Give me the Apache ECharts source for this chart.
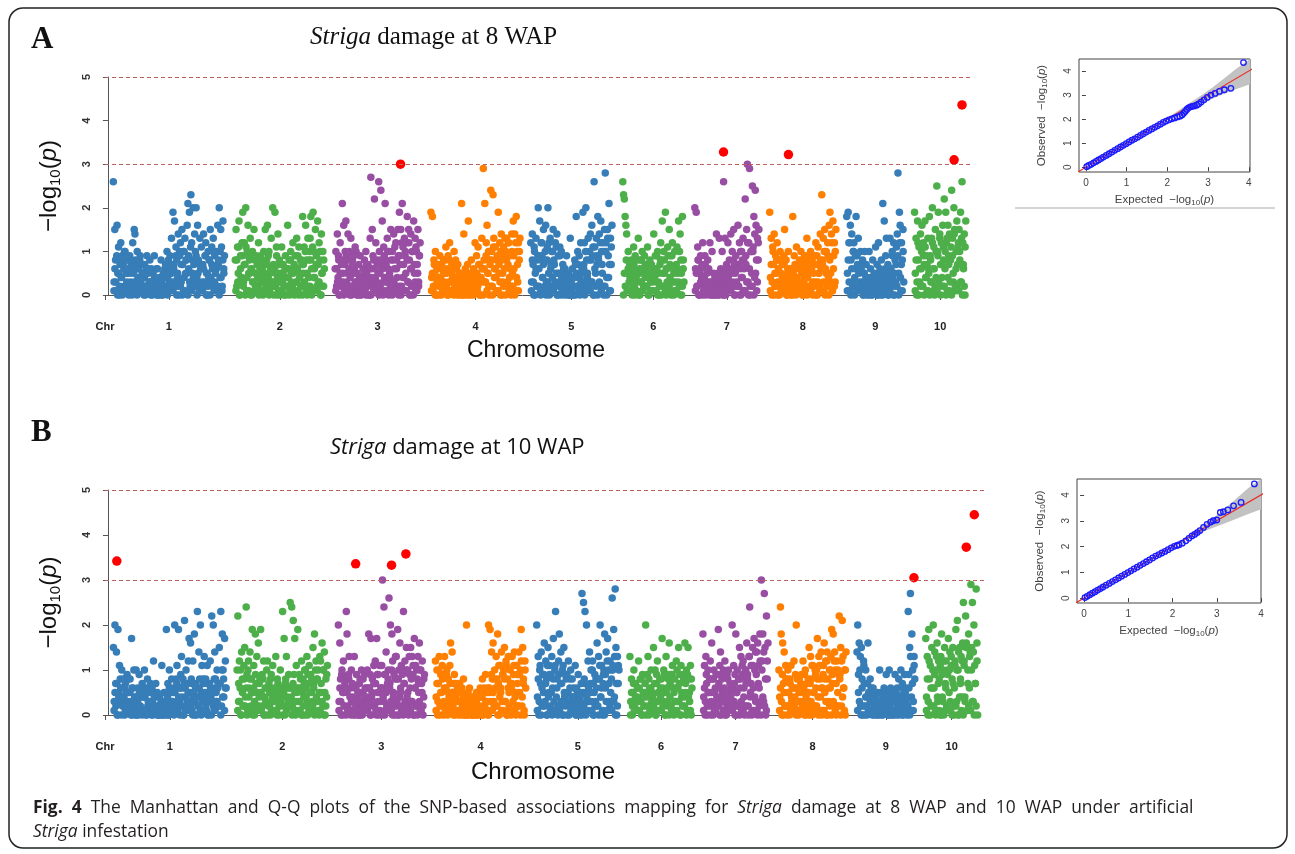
<!DOCTYPE html>
<html><head><meta charset="utf-8">
<script src="https://cdn.jsdelivr.net/npm/echarts@6/dist/echarts.min.js"></script>
<style>html,body{margin:0;padding:0;background:#fff;}#c{width:1295px;height:854px;}</style>
</head><body><div id="c"></div>
<script>
// ---------------- DATA ----------------
const chrLabels = ['1','2','3','4','5','6','7','8','9','10'];
const chrLengthMb = [293,240,230,240,221,173,180,185,163,149];
const yTicks = [0,1,2,3,4,5];
const thresholdLines = [3,5];

// Striga damage at 8 WAP : -log10(p) of SNPs in chromosome order (upper / scattered SNPs)
const wap8Chr1 = [2.6,0.3,1.5,0.8,0.1,1.6,0.5,1.1,0.0,0.7, 1.2,0.4,0.9,0.1,0.6,1.0,0.2,0.8,0.3,0.5, 0.6,0.1,0.9,0.3,0.7,0.0,1.2,0.5,1.5,1.4, 0.8,0.2,1.0,0.4,0.6,0.1,0.9,0.3,0.7,0.5, 0.4,0.0,0.7,0.2,0.5,0.9,0.1,0.6,0.3,0.8, 0.3,0.6,0.0,0.5,0.2,0.9,0.4,0.1,0.6,0.3, 0.2,0.0,0.4,0.1,0.8,0.3,0.0,0.5,0.2,0.6, 0.7,0.1,1.0,0.4,0.6,0.2,0.9,0.5,1.3,0.3, 1.9,0.6,1.7,0.2,1.1,0.8,0.4,1.4,0.0,0.9, 1.2,0.3,1.5,0.7,0.1,1.0,1.3,0.5,0.8,1.6, 2.1,0.9,1.9,0.2,2.3,1.2,0.5,2.0,0.7,1.4, 1.0,2.0,0.4,1.6,0.8,0.1,1.3,0.6,1.1,0.3, 0.7,1.4,0.2,0.9,1.2,0.5,0.0,1.0,0.4,0.8, 1.5,0.3,1.1,0.6,1.3,0.1,0.9,0.5,1.0,0.2, 1.6,0.8,2.0,0.4,1.5,1.1,0.2,1.7,0.6,0.9];
const wap8Chr2 = [0.8,1.5,0.2,1.1,0.5,1.7,0.0,0.9,0.4,1.2, 1.9,0.3,1.2,0.7,2.0,0.1,1.0,1.6,0.5,0.8, 1.3,0.6,0.0,1.0,0.3,1.5,0.8,0.2,0.9,0.5, 0.4,1.2,0.1,0.7,0.9,0.3,0.6,0.0,1.0,0.5, 1.5,0.2,0.8,1.6,0.4,1.0,0.1,0.6,1.3,0.3, 2.0,0.7,0.2,1.9,0.5,1.1,0.0,1.4,0.3,0.8, 0.5,0.1,1.1,0.3,0.7,0.0,0.4,0.9,0.2,0.6, 1.6,0.4,0.8,0.1,1.0,0.5,0.2,1.2,0.6,0.0, 0.9,0.3,1.3,0.6,0.1,1.1,0.4,0.8,0.2,0.7, 1.8,0.5,1.1,0.2,1.6,0.8,0.0,1.3,0.4,1.0, 1.3,1.8,0.6,0.1,1.9,1.0,0.4,1.5,0.7,0.2, 1.7,0.3,1.2,0.8,0.0,1.4,0.5,1.0,0.2,0.6];
const wap8Chr3 = [0.6,1.0,0.2,1.4,0.4,0.8,0.0,1.2,0.3,0.7, 2.1,0.5,1.6,0.1,1.0,1.7,0.3,0.8,1.4,0.2, 1.0,0.4,1.3,0.0,0.7,0.2,0.9,0.5,1.1,0.3, 0.1,0.5,0.0,0.7,0.2,0.9,0.0,0.4,0.1,0.6, 0.3,0.8,0.1,1.0,0.5,0.2,0.7,0.0,0.6,1.3, 2.7,0.4,1.5,0.9,0.1,2.2,0.6,1.2,0.3,0.8, 0.5,2.6,1.0,0.2,2.4,0.7,1.7,0.0,1.1,0.4, 2.1,0.8,0.3,1.3,0.6,0.1,1.0,0.4,1.5,0.2, 1.0,0.3,1.4,0.6,0.1,1.2,0.8,0.4,1.5,0.0, 1.9,0.7,1.5,0.2,2.1,1.1,0.4,1.3,0.9,0.5, 1.2,1.8,0.3,1.5,0.8,0.0,1.4,0.6,1.0,0.2, 1.7,0.5,1.3,0.1,1.0,0.7,1.5,0.3,0.9,1.2];
const wap8Chr4 = [1.9,0.4,1.8,0.1,0.8,0.5,1.0,0.0,0.6,0.3, 0.7,0.2,0.9,0.4,0.0,0.6,0.3,0.8,0.1,0.5, 1.1,0.5,0.0,0.9,0.3,1.2,0.6,0.1,0.7,0.4, 0.6,1.0,0.2,0.8,0.4,0.0,0.7,0.3,0.5,0.1, 0.3,2.1,0.0,0.5,1.4,0.2,0.6,0.1,0.4,0.7, 1.7,0.2,0.5,0.0,0.8,0.3,0.1,0.6,0.4,1.2, 0.5,0.9,0.1,1.1,0.3,0.7,0.0,0.4,1.3,0.6, 2.9,0.8,2.1,0.3,1.2,1.6,0.5,1.0,0.0,0.7, 2.4,1.0,0.2,2.3,1.3,0.6,1.1,0.4,0.8,0.1, 1.9,0.5,1.2,0.0,1.4,0.8,0.3,1.1,0.6,1.3, 1.0,1.3,0.2,0.7,1.2,0.4,0.9,0.0,1.4,0.5, 1.7,0.6,1.4,0.1,1.8,1.0,0.3,1.2,0.8,1.3];
const wap8Chr5 = [1.2,0.3,1.4,0.7,0.0,1.0,0.5,1.3,0.2,0.8, 2.0,0.6,1.7,0.1,1.2,0.9,0.4,1.5,0.8,0.2, 1.6,0.3,1.1,2.0,0.5,0.0,1.3,0.7,1.0,0.4, 1.5,0.8,0.2,1.2,0.5,1.4,0.0,0.9,0.3,1.1, 0.5,1.0,0.1,0.7,0.3,0.0,0.6,0.2,0.9,0.4, 0.2,0.5,0.0,1.3,0.3,0.1,0.6,0.0,0.4,0.8, 0.7,1.8,0.2,1.0,0.4,0.9,0.0,1.2,0.5,0.3, 1.9,0.6,1.2,0.1,2.0,0.8,0.4,1.3,0.2,1.0, 1.4,0.3,1.6,0.9,0.0,2.6,1.1,0.5,1.3,0.7, 1.8,0.8,1.4,0.2,1.7,1.0,0.5,1.2,0.0,1.5, 2.8,1.2,0.4,1.5,0.9,2.1,0.1,1.3,0.7,1.6];
const wap8Chr6 = [2.6,2.3,2.2,1.8,1.6,1.4,0.5,1.0,0.1,0.7, 0.3,0.8,0.0,0.6,1.1,0.2,0.9,0.4,0.1,0.5, 1.3,0.5,0.0,0.8,0.3,1.0,0.6,0.2,0.9,0.4, 0.6,0.2,1.1,0.4,0.0,0.8,0.3,0.7,0.1,0.5, 1.4,0.4,0.9,0.1,0.6,1.0,0.3,0.0,0.7,1.2, 0.8,1.7,0.2,1.0,0.5,1.9,0.0,0.6,1.1,0.3, 1.5,0.4,0.9,0.1,1.2,0.6,0.0,1.0,0.3,0.7, 1.1,0.5,1.7,0.2,1.4,0.8,0.0,1.8,0.6,0.3];
const wap8Chr7 = [2.0,0.6,1.9,0.2,1.1,0.8,0.0,0.5,0.9,0.3, 0.7,1.2,0.1,0.4,0.9,0.0,0.6,0.3,0.8,0.2, 0.1,1.2,0.3,0.0,1.0,0.2,0.5,0.0,0.4,0.1, 1.4,0.2,0.5,0.0,1.3,0.3,0.6,0.1,1.0,0.4, 2.6,0.3,1.3,0.0,0.7,0.4,1.2,0.1,0.8,0.5, 1.4,0.5,1.0,0.2,1.5,0.7,0.0,0.9,0.3,0.6, 1.6,0.2,1.2,0.6,0.0,1.0,0.4,1.3,0.8,0.1, 2.2,0.7,1.5,3.0,0.3,1.2,2.9,0.0,1.0,0.5, 2.5,1.1,1.8,0.4,2.4,1.6,0.1,1.3,0.8,1.5];
const wap8Chr8 = [1.9,0.4,1.3,0.0,1.1,0.7,1.4,0.2,0.9,0.5, 1.2,0.3,0.8,0.0,1.0,0.5,0.1,0.7,0.4,0.9, 1.5,0.2,0.8,0.0,0.5,1.0,0.1,0.6,0.3,0.4, 0.6,1.8,0.1,0.9,0.4,0.0,1.1,0.3,0.7,0.2, 0.8,0.2,1.0,0.5,0.0,0.7,0.3,0.9,0.1,0.6, 1.3,0.4,0.9,0.1,0.6,1.0,0.2,0.8,0.0,0.5, 0.9,0.3,1.2,0.7,0.0,1.1,0.5,0.2,1.4,0.6, 2.3,0.8,1.3,0.1,1.5,0.6,1.0,0.3,1.2,0.4, 1.6,1.9,0.5,1.4,0.1,1.7,0.9,1.2,0.3,1.5];
const wap8Chr9 = [1.8,0.5,1.9,1.2,0.1,1.6,0.8,1.4,0.3,1.0, 1.2,0.4,0.9,1.8,0.1,0.7,1.3,0.2,0.6,1.0, 0.6,0.2,0.8,0.0,0.5,1.0,0.3,0.7,0.1,0.4, 0.3,1.0,0.1,0.6,0.0,0.4,0.8,0.2,0.5,0.1, 1.1,0.4,0.7,0.0,1.2,0.2,0.6,0.3,0.8,0.1, 2.1,0.5,1.7,0.1,0.9,1.3,0.3,0.7,0.0,0.4, 1.3,0.6,0.2,1.0,0.4,1.2,0.0,0.8,0.3,1.1, 1.4,2.8,0.5,1.9,1.6,0.1,1.2,0.8,1.5,0.3];
const wap8Chr10 = [1.9,0.5,1.3,0.0,1.7,0.8,1.1,0.3,1.4,0.6, 1.6,0.2,1.2,0.7,1.7,0.4,0.9,0.1,1.3,0.6, 1.8,0.9,0.3,1.3,2.0,0.6,1.1,0.0,1.5,0.4, 2.5,1.0,1.9,0.2,1.4,0.7,1.2,0.4,1.6,0.8, 2.2,0.6,1.9,1.2,0.1,1.6,0.9,1.4,0.3,1.1, 2.4,1.3,0.5,2.0,1.5,0.2,1.0,1.7,0.7,1.2, 1.5,0.8,1.9,0.3,2.6,1.2,0.6,1.4,0.0,1.7];
// 8 WAP: dense low-significance SNPs of each chromosome
const wap8Chr1Dense = [0.1,0.6,0.3,0.9,0.0,0.5,0.2,0.8, 0.4,0.0,0.7,0.2,1.0,0.5,0.1,0.8, 0.0,0.5,0.2,0.8,0.1,0.6,0.3,0.7, 0.3,0.0,0.6,0.2,0.8,0.4,0.1,0.5, 0.1,0.4,0.0,0.6,0.2,0.5,0.1,0.3, 0.0,0.3,0.5,0.1,0.4,0.2,0.0,0.6, 0.0,0.2,0.1,0.3,0.0,0.2,0.1,0.4, 0.2,0.6,0.0,0.8,0.3,0.1,0.5,0.7, 0.1,0.7,0.3,0.9,0.0,0.5,0.2,1.0, 0.2,0.7,0.0,1.0,0.4,0.1,0.8,0.5, 0.0,0.6,0.3,1.1,0.1,0.8,0.4,0.2, 0.3,0.9,0.0,0.5,0.2,0.7,0.1,0.6, 0.1,0.6,0.3,0.9,0.0,0.5,0.2,0.8, 0.0,0.4,0.7,0.2,1.0,0.3,0.1,0.6, 0.2,0.7,0.0,1.0,0.4,0.1,0.8,0.5];
const wap8Chr2Dense = [0.1,0.8,0.3,1.1,0.0,0.6,0.4,0.9, 0.2,0.7,0.0,1.1,0.4,0.9,0.1,0.5, 0.0,0.6,0.3,0.9,0.1,0.5,0.2,0.7, 0.2,0.0,0.6,0.3,0.8,0.1,0.5,0.4, 0.1,0.7,0.3,0.9,0.0,0.5,0.2,0.6, 0.3,0.0,0.6,0.2,0.9,0.4,0.1,0.7, 0.0,0.3,0.1,0.5,0.2,0.6,0.0,0.4, 0.2,0.6,0.0,0.8,0.3,0.1,0.5,0.7, 0.1,0.6,0.3,0.9,0.0,0.5,0.2,0.8, 0.0,0.7,0.3,1.0,0.1,0.5,0.2,0.8, 0.2,0.8,0.0,1.1,0.4,0.6,0.1,0.9, 0.1,0.7,0.3,1.0,0.0,0.5,0.2,0.8];
const wap8Chr3Dense = [0.1,0.6,0.3,0.9,0.0,0.5,0.2,0.8, 0.3,0.0,0.7,0.2,0.9,0.5,0.1,0.6, 0.0,0.5,0.2,0.8,0.1,0.6,0.3,1.0, 0.0,0.2,0.1,0.4,0.0,0.3,0.1,0.2, 0.1,0.5,0.0,0.7,0.2,0.4,0.0,0.3, 0.0,0.6,0.2,0.8,0.1,0.4,0.3,0.7, 0.2,0.0,0.5,0.8,0.1,0.6,0.3,0.9, 0.1,0.7,0.3,1.0,0.0,0.5,0.2,0.8, 0.0,0.8,0.3,1.1,0.2,0.6,0.1,0.9, 0.2,0.9,0.0,1.2,0.4,0.7,0.1,1.0, 0.1,0.8,0.3,1.2,0.0,0.6,0.2,1.0, 0.0,0.7,0.3,1.1,0.1,0.5,0.2,0.9];
const wap8Chr4Dense = [0.1,0.5,0.2,0.7,0.0,0.4,0.3,0.6, 0.0,0.4,0.2,0.7,0.1,0.5,0.3,0.8, 0.2,0.6,0.0,0.8,0.3,0.1,0.5,0.4, 0.0,0.3,0.1,0.6,0.2,0.4,0.0,0.5, 0.1,0.3,0.0,0.4,0.2,0.0,0.3,0.1, 0.0,0.2,0.4,0.1,0.3,0.0,0.2,0.5, 0.1,0.5,0.2,0.7,0.0,0.4,0.3,0.6, 0.0,0.6,0.3,0.9,0.1,0.5,0.2,0.8, 0.2,0.8,0.0,1.1,0.4,0.6,0.1,0.9, 0.1,0.7,0.3,1.0,0.0,0.5,0.2,0.9, 0.0,0.8,0.3,1.2,0.1,0.6,0.2,1.0, 0.2,0.9,0.0,1.2,0.4,0.7,0.1,1.0];
const wap8Chr5Dense = [0.1,0.8,0.3,1.1,0.0,0.6,0.2,0.9, 0.2,0.9,0.0,1.2,0.4,0.7,0.1,1.0, 0.0,0.8,0.3,1.2,0.1,0.6,0.2,1.0, 0.1,0.7,0.3,1.1,0.0,0.5,0.2,0.9, 0.0,0.4,0.2,0.6,0.1,0.5,0.3,0.0, 0.1,0.2,0.0,0.3,0.1,0.0,0.2,0.4, 0.0,0.5,0.2,0.7,0.1,0.4,0.3,0.6, 0.2,0.7,0.0,1.0,0.3,0.5,0.1,0.8, 0.1,0.8,0.3,1.1,0.0,0.6,0.2,0.9, 0.0,0.9,0.3,1.2,0.1,0.7,0.2,1.0, 0.2,1.0,0.0,1.3,0.4,0.7,0.1,1.1];
const wap8Chr6Dense = [0.0,0.5,0.2,0.8,0.1,0.6,0.3,0.4, 0.1,0.5,0.2,0.7,0.0,0.4,0.3,0.8, 0.0,0.6,0.3,0.8,0.1,0.5,0.2,0.7, 0.2,0.5,0.0,0.7,0.1,0.4,0.3,0.6, 0.1,0.6,0.3,0.9,0.0,0.5,0.2,0.8, 0.0,0.5,0.2,0.8,0.1,0.6,0.3,0.9, 0.2,0.7,0.0,0.9,0.3,0.5,0.1,0.6, 0.1,0.6,0.3,1.0,0.0,0.5,0.2,0.8];
const wap8Chr7Dense = [0.1,0.5,0.2,0.8,0.0,0.6,0.3,0.4, 0.0,0.4,0.2,0.7,0.1,0.5,0.3,0.6, 0.0,0.2,0.1,0.3,0.0,0.1,0.2,0.0, 0.1,0.3,0.0,0.4,0.2,0.1,0.3,0.0, 0.0,0.5,0.2,0.6,0.1,0.4,0.3,0.2, 0.1,0.6,0.3,0.8,0.0,0.5,0.2,0.7, 0.2,0.7,0.0,1.0,0.4,0.8,0.1,0.6, 0.1,0.9,0.3,1.2,0.0,0.6,0.2,1.0, 0.2,1.0,0.0,1.4,0.5,0.8,0.3,1.2];
const wap8Chr8Dense = [0.1,0.7,0.3,1.0,0.0,0.5,0.2,0.8, 0.0,0.6,0.2,0.8,0.1,0.4,0.3,0.7, 0.1,0.4,0.0,0.6,0.2,0.3,0.0,0.5, 0.0,0.5,0.2,0.7,0.1,0.4,0.3,0.6, 0.1,0.6,0.3,0.8,0.0,0.4,0.2,0.7, 0.0,0.5,0.2,0.8,0.1,0.6,0.3,0.7, 0.2,0.7,0.0,0.9,0.3,0.5,0.1,0.8, 0.1,0.7,0.3,1.0,0.0,0.5,0.2,0.9, 0.0,0.8,0.3,1.2,0.1,0.6,0.2,1.0];
const wap8Chr9Dense = [0.1,0.8,0.3,1.2,0.0,0.6,0.2,1.0, 0.0,0.6,0.2,0.9,0.1,0.5,0.3,0.7, 0.1,0.3,0.0,0.5,0.2,0.4,0.0,0.2, 0.0,0.2,0.1,0.4,0.0,0.3,0.1,0.2, 0.1,0.3,0.0,0.5,0.2,0.4,0.0,0.1, 0.0,0.4,0.2,0.6,0.1,0.3,0.0,0.5, 0.1,0.6,0.3,0.9,0.0,0.5,0.2,0.7, 0.2,0.9,0.0,1.2,0.4,0.7,0.1,1.0];
const wap8Chr10Dense = [0.1,0.8,0.3,1.2,0.0,0.6,0.2,1.0, 0.2,0.9,0.0,1.1,0.4,0.7,0.1,0.5, 0.0,0.8,0.3,1.2,0.1,0.6,0.2,1.0, 0.1,0.9,0.3,1.3,0.0,0.7,0.2,1.1, 0.2,1.0,0.0,1.3,0.4,0.7,0.1,0.8, 0.0,0.9,0.3,1.4,0.1,0.6,0.2,1.1, 0.1,1.0,0.3,1.3,0.0,0.7,0.2,1.1];
// significant SNPs (red): [chromosome, position in Mb, -log10(p)]
const wap8Significant = [[3,170,3.0],[7,82,3.28],[8,58,3.22],[10,108,3.1],[10,127,4.36]];

// Striga damage at 10 WAP
const wap10Chr1 = [1.5,0.3,2.0,0.7,1.4,0.0,1.9,0.5,1.1,0.8, 0.6,1.0,0.2,0.8,0.4,0.0,0.7,0.3,0.9,0.1, 0.5,0.1,0.8,0.3,1.7,0.0,0.6,1.0,0.2,0.4, 1.0,0.3,0.6,0.0,0.9,0.2,0.5,0.1,0.7,0.4, 0.4,1.0,0.1,0.6,0.0,0.8,0.3,0.5,0.2,0.7, 0.3,0.6,0.0,1.2,0.4,0.1,0.7,0.2,0.5,0.0, 0.1,0.4,0.0,0.3,1.1,0.2,0.0,0.5,0.1,0.3, 1.9,0.2,0.7,0.0,1.0,0.5,0.1,0.8,0.3,0.6, 0.5,2.0,0.1,0.8,1.1,0.3,1.9,0.6,0.0,0.9, 1.3,0.4,0.8,0.0,2.1,0.6,1.0,0.2,0.7,1.2, 1.7,0.3,1.6,0.8,0.1,1.2,0.5,1.8,0.0,0.7, 0.6,2.3,0.2,1.4,0.8,2.0,0.0,1.1,0.4,0.7, 1.3,0.3,0.8,0.1,1.1,0.5,0.0,0.7,1.2,0.4, 2.2,0.5,2.0,0.1,1.4,0.8,0.3,1.0,0.6,0.2, 1.5,0.7,2.3,0.2,1.8,1.0,0.4,1.7,1.2,0.6];
const wap10Chr2 = [1.0,2.2,0.3,1.2,0.6,0.0,1.4,0.8,0.2,1.1, 1.5,0.4,2.4,0.9,0.1,1.2,0.6,1.4,0.2,0.8, 1.9,0.5,1.1,0.0,1.8,0.7,1.3,0.2,1.6,0.4, 0.8,1.9,0.1,0.9,0.4,1.2,0.0,0.6,0.3,1.0, 1.2,0.2,0.7,0.5,0.0,0.9,0.3,1.1,0.1,0.6, 0.5,1.3,0.1,0.8,0.3,0.0,0.6,1.0,0.2,0.4, 2.3,0.4,1.7,0.0,0.8,1.3,0.2,0.6,0.9,0.3, 2.5,0.6,2.4,0.2,2.1,0.9,1.7,0.0,1.1,0.5, 1.9,0.3,0.9,0.1,0.6,1.2,0.0,0.8,0.4,1.0, 1.0,0.4,1.3,0.0,0.7,1.1,0.2,0.9,0.5,0.3, 1.5,0.6,1.8,0.1,1.2,0.8,0.3,1.0,0.0,1.3, 1.2,0.5,1.6,0.2,1.0,1.4,0.0,0.8,0.4,1.1];
const wap10Chr3 = [2.0,0.3,1.6,0.8,0.0,1.0,0.5,1.2,0.2,0.7, 0.6,2.3,1.8,0.1,0.9,1.3,0.4,0.0,1.0,0.3, 0.4,0.0,1.3,0.6,0.2,0.9,0.1,0.5,0.0,0.7, 0.8,0.3,1.0,0.0,0.5,0.2,0.9,0.6,0.1,0.4, 1.0,0.2,1.8,0.6,0.0,1.7,0.4,0.8,0.3,1.1, 0.7,1.2,0.1,1.7,0.5,0.9,0.0,1.1,0.3,0.6, 1.1,3.0,0.4,2.4,0.0,0.9,1.4,0.2,0.7,1.0, 2.6,0.6,2.0,0.1,1.8,1.2,0.4,0.9,0.0,1.3, 1.3,0.3,1.9,0.8,0.0,1.6,0.5,1.1,0.2,1.0, 2.3,0.7,1.2,0.1,1.5,0.4,1.0,0.0,1.3,0.6, 1.5,0.3,1.3,0.9,0.0,1.7,0.6,1.1,0.2,0.8, 1.3,0.5,1.6,0.1,1.0,0.7,1.2,0.0,0.4,0.9];
const wap10Chr4 = [1.2,0.4,1.0,0.0,0.7,1.3,0.2,0.9,0.5,1.1, 0.9,0.3,1.3,0.1,0.6,1.0,0.0,0.8,0.4,1.1, 1.6,0.2,1.4,0.5,0.0,0.9,0.3,0.7,0.1,0.6, 0.5,0.1,0.7,0.3,0.0,0.6,0.2,0.8,0.4,0.0, 0.3,2.0,0.0,0.5,0.2,0.6,0.1,0.4,0.0,0.3, 0.2,0.4,0.0,0.3,0.5,0.1,0.0,0.4,0.2,0.6, 0.4,0.0,0.8,0.2,0.6,0.1,0.9,0.3,0.5,0.0, 2.0,0.5,1.9,0.1,1.4,0.8,1.6,0.3,1.0,0.6, 1.3,0.2,1.8,0.7,0.0,1.1,0.5,1.4,0.3,0.9, 1.0,1.5,0.3,1.2,0.0,0.8,1.3,0.5,0.1,0.7, 0.6,1.3,0.1,0.9,1.4,0.4,0.0,1.1,0.7,0.2, 1.4,0.5,1.0,1.9,0.2,1.5,0.8,0.0,1.2,0.6];
const wap10Chr5 = [2.0,0.4,1.3,0.0,1.0,0.7,1.4,0.2,0.9,0.5, 1.6,0.3,1.2,0.8,0.0,1.5,0.5,1.1,0.2,0.9, 1.3,0.6,1.7,0.1,1.0,2.3,0.4,0.8,0.0,1.2, 1.8,0.2,1.4,0.7,0.0,1.1,1.5,0.4,0.9,0.3, 0.9,0.3,1.2,0.0,0.6,1.0,0.2,0.8,0.4,0.1, 0.4,1.1,0.0,0.6,0.2,0.9,0.1,0.5,0.3,0.7, 2.7,0.2,2.5,0.8,2.3,0.0,2.0,0.5,1.2,0.3, 1.4,0.5,1.0,0.1,1.2,0.7,0.0,0.9,0.3,0.6, 1.6,0.2,1.3,0.8,2.0,0.4,1.1,0.0,0.7,1.0, 1.8,0.6,1.4,0.1,1.7,1.0,0.3,1.2,0.5,0.8, 2.6,1.1,1.9,0.4,2.8,1.5,0.0,1.3,0.7,1.0];
const wap10Chr6 = [1.3,0.3,0.8,0.0,0.5,1.0,0.2,0.7,0.1,0.4, 0.6,1.2,0.1,0.8,0.3,0.0,0.9,0.4,0.2,0.5, 2.0,0.4,0.9,1.3,0.0,0.6,0.2,1.0,0.5,0.1, 1.5,0.3,1.0,0.0,0.7,1.2,0.5,0.1,0.8,0.4, 0.8,1.7,0.2,1.0,0.5,0.0,1.3,0.6,0.3,0.9, 1.6,0.4,0.9,0.1,1.1,0.6,0.0,0.8,0.3,1.2, 1.0,0.3,1.5,0.7,0.0,1.1,0.5,0.2,0.9,0.4, 1.6,0.5,1.0,0.1,1.5,0.8,0.3,1.1,0.0,0.6];
const wap10Chr7 = [1.8,0.4,1.1,0.0,1.3,0.7,0.2,1.0,0.5,0.8, 1.2,0.3,1.6,0.8,0.0,1.0,0.5,0.1,0.9,0.4, 0.6,1.9,0.2,1.1,1.4,0.0,0.8,0.4,1.0,0.3, 1.2,0.5,0.0,0.9,0.3,1.0,0.1,0.7,0.4,0.2, 2.0,0.3,1.1,0.7,0.0,1.8,0.5,1.0,0.2,0.8, 1.5,0.6,1.3,0.1,0.9,1.2,0.4,0.0,1.0,0.7, 1.6,0.8,0.2,1.3,2.4,0.5,1.1,0.0,1.5,0.6, 1.7,0.4,1.4,0.9,0.1,1.6,1.1,0.6,1.8,0.3, 3.0,1.2,1.8,0.3,2.7,1.5,0.0,2.2,0.8,1.6];
const wap10Chr8 = [1.0,0.4,2.4,1.8,0.0,1.6,0.7,1.4,0.2,1.1, 0.8,0.2,1.0,0.5,0.0,0.7,1.1,0.3,0.6,0.1, 1.2,0.4,0.9,2.0,0.1,0.6,0.0,0.8,0.3,0.5, 0.9,0.2,1.2,0.6,0.0,1.0,0.4,0.7,0.1,0.5, 1.5,0.3,1.3,0.8,0.0,1.1,0.5,0.2,1.0,0.6, 1.0,1.7,0.4,1.3,0.1,0.8,1.4,0.0,0.6,1.1, 1.6,0.5,1.2,0.0,1.4,0.8,0.3,1.0,0.6,1.3, 1.9,0.7,1.8,0.2,1.4,1.0,0.0,1.2,0.5,0.9, 2.2,0.9,1.5,0.2,2.1,1.3,0.6,1.0,0.0,1.4];
const wap10Chr9 = [1.4,2.0,0.5,1.6,1.0,0.2,1.5,0.8,0.0,1.2, 0.7,0.2,1.0,0.4,0.0,1.6,0.5,0.1,0.8,0.3, 0.4,0.0,0.6,0.2,0.5,0.1,0.3,0.0,0.5,0.2, 0.3,1.0,0.1,0.5,0.0,0.4,0.2,0.6,0.1,0.3, 0.9,0.2,0.5,0.0,1.0,0.3,0.6,0.1,0.4,0.0, 0.5,0.1,0.9,0.3,0.0,0.6,0.2,0.8,0.4,0.1, 1.0,0.3,0.7,0.0,0.5,0.9,0.1,0.6,0.2,0.4, 2.3,0.6,1.5,2.7,0.1,1.8,1.0,0.3,1.3,0.8];
const wap10Chr10 = [1.7,0.4,1.3,0.0,1.9,0.8,1.1,0.2,1.5,0.6, 2.0,0.6,1.4,0.1,1.0,1.6,0.3,1.2,0.8,0.0, 1.3,1.8,0.4,1.0,0.0,1.5,0.7,1.2,0.2,0.9, 1.7,0.5,1.4,0.1,1.1,0.8,1.5,0.0,0.6,1.2, 1.9,0.3,2.1,1.0,0.0,1.5,0.7,1.3,0.4,1.6, 2.5,1.2,0.4,2.2,1.6,0.1,1.0,1.8,0.6,1.4, 2.9,1.5,2.5,0.3,2.0,1.1,0.7,2.8,1.6,0.0];
const wap10Chr1Dense = [0.1,0.5,0.2,0.7,0.0,0.4,0.3,0.6, 0.0,0.4,0.2,0.6,0.1,0.5,0.3,0.8, 0.2,0.5,0.0,0.6,0.1,0.3,0.4,0.0, 0.0,0.3,0.1,0.5,0.2,0.4,0.0,0.6, 0.1,0.4,0.0,0.5,0.2,0.3,0.1,0.6, 0.0,0.3,0.2,0.5,0.1,0.4,0.0,0.2, 0.0,0.2,0.1,0.3,0.0,0.2,0.1,0.0, 0.1,0.4,0.0,0.6,0.2,0.5,0.3,0.1, 0.0,0.5,0.2,0.7,0.1,0.4,0.3,0.6, 0.2,0.6,0.0,0.7,0.1,0.4,0.3,0.5, 0.1,0.5,0.2,0.7,0.0,0.4,0.3,0.6, 0.0,0.4,0.2,0.6,0.1,0.5,0.3,0.8, 0.1,0.5,0.2,0.7,0.0,0.4,0.3,0.6, 0.0,0.6,0.2,0.8,0.1,0.5,0.3,0.7, 0.2,0.7,0.0,1.0,0.4,0.8,0.1,0.6];
const wap10Chr2Dense = [0.1,0.7,0.3,1.0,0.0,0.5,0.2,0.8, 0.2,0.6,0.0,1.0,0.4,0.8,0.1,0.5, 0.0,0.6,0.3,0.9,0.1,0.5,0.2,0.7, 0.1,0.5,0.2,0.8,0.0,0.4,0.3,0.6, 0.0,0.6,0.2,0.8,0.1,0.4,0.3,0.5, 0.1,0.4,0.0,0.7,0.2,0.5,0.3,0.6, 0.0,0.5,0.2,0.7,0.1,0.4,0.3,0.6, 0.2,0.4,0.0,0.7,0.1,0.5,0.3,0.6, 0.1,0.6,0.3,0.8,0.0,0.5,0.2,0.7, 0.0,0.6,0.3,0.9,0.1,0.5,0.2,0.8, 0.2,0.7,0.0,1.0,0.4,0.8,0.1,0.5, 0.1,0.7,0.3,1.0,0.0,0.5,0.2,0.9];
const wap10Chr3Dense = [0.1,0.6,0.3,0.9,0.0,0.5,0.2,0.8, 0.0,0.5,0.2,0.8,0.1,0.6,0.3,0.7, 0.1,0.3,0.0,0.6,0.2,0.4,0.0,0.5, 0.0,0.5,0.2,0.8,0.1,0.4,0.3,0.6, 0.1,0.6,0.3,0.9,0.0,0.5,0.2,0.7, 0.2,0.7,0.0,0.9,0.3,0.5,0.1,0.6, 0.0,0.6,0.3,0.9,0.1,0.5,0.2,0.8, 0.1,0.7,0.3,1.0,0.0,0.5,0.2,0.8, 0.2,0.8,0.0,1.0,0.4,0.6,0.1,0.9, 0.0,0.7,0.3,1.0,0.1,0.5,0.2,0.9, 0.1,0.8,0.3,1.1,0.0,0.6,0.2,1.0, 0.0,0.7,0.3,1.0,0.1,0.5,0.2,0.8];
const wap10Chr4Dense = [0.1,0.7,0.3,1.0,0.0,0.5,0.2,0.8, 0.0,0.6,0.2,0.9,0.1,0.5,0.3,0.7, 0.1,0.5,0.2,0.7,0.0,0.4,0.3,0.6, 0.0,0.3,0.1,0.5,0.2,0.4,0.0,0.2, 0.1,0.3,0.0,0.4,0.2,0.1,0.0,0.3, 0.0,0.2,0.1,0.3,0.0,0.2,0.1,0.4, 0.1,0.4,0.0,0.5,0.2,0.3,0.1,0.6, 0.0,0.6,0.3,0.9,0.1,0.5,0.2,0.8, 0.2,0.8,0.0,1.1,0.4,0.6,0.1,0.9, 0.1,0.8,0.3,1.1,0.0,0.6,0.2,1.0, 0.0,0.7,0.3,1.1,0.1,0.5,0.2,0.9, 0.2,0.9,0.0,1.2,0.4,0.7,0.1,1.0];
const wap10Chr5Dense = [0.1,0.8,0.3,1.1,0.0,0.6,0.2,0.9, 0.2,0.7,0.0,1.1,0.4,0.9,0.1,0.5, 0.0,0.8,0.3,1.1,0.1,0.6,0.2,0.9, 0.1,0.7,0.3,1.0,0.0,0.5,0.2,0.8, 0.0,0.5,0.2,0.8,0.1,0.4,0.3,0.6, 0.1,0.3,0.0,0.5,0.2,0.4,0.0,0.2, 0.0,0.5,0.2,0.7,0.1,0.4,0.3,0.6, 0.1,0.7,0.3,1.0,0.0,0.5,0.2,0.8, 0.2,0.8,0.0,1.1,0.4,0.6,0.1,0.9, 0.0,0.9,0.3,1.2,0.1,0.7,0.2,1.0, 0.1,1.0,0.3,1.3,0.0,0.7,0.2,1.1];
const wap10Chr6Dense = [0.0,0.5,0.2,0.7,0.1,0.4,0.3,0.6, 0.1,0.6,0.3,0.8,0.0,0.5,0.2,0.7, 0.0,0.5,0.2,0.8,0.1,0.6,0.3,0.4, 0.2,0.7,0.0,0.9,0.3,0.5,0.1,0.6, 0.1,0.6,0.3,0.9,0.0,0.5,0.2,0.8, 0.0,0.7,0.2,0.9,0.1,0.5,0.3,0.6, 0.1,0.6,0.3,0.9,0.0,0.4,0.2,0.8, 0.2,0.7,0.0,0.9,0.4,0.5,0.1,0.8];
const wap10Chr7Dense = [0.1,0.6,0.3,0.9,0.0,0.5,0.2,0.8, 0.0,0.5,0.2,0.8,0.1,0.6,0.3,0.9, 0.2,0.7,0.0,0.9,0.3,0.5,0.1,0.6, 0.0,0.4,0.2,0.8,0.1,0.5,0.3,0.6, 0.1,0.6,0.3,0.9,0.0,0.5,0.2,0.8, 0.0,0.8,0.3,1.1,0.1,0.6,0.2,1.0, 0.2,0.9,0.0,1.3,0.4,0.7,0.1,1.1, 0.1,1.0,0.3,1.4,0.0,0.7,0.2,1.2, 0.0,1.0,0.4,1.4,0.2,0.8,0.1,1.2];
const wap10Chr8Dense = [0.1,0.6,0.3,0.9,0.0,0.5,0.2,0.8, 0.0,0.5,0.2,0.8,0.1,0.4,0.3,0.6, 0.2,0.6,0.0,0.8,0.1,0.5,0.3,0.7, 0.1,0.6,0.3,0.9,0.0,0.5,0.2,0.8, 0.0,0.7,0.3,1.1,0.1,0.5,0.2,0.9, 0.2,0.8,0.0,1.1,0.4,0.6,0.1,0.9, 0.1,0.8,0.3,1.2,0.0,0.6,0.2,1.0, 0.0,0.9,0.3,1.2,0.1,0.7,0.2,1.0, 0.2,0.8,0.0,1.2,0.4,0.6,0.1,1.0];
const wap10Chr9Dense = [0.1,0.9,0.3,1.3,0.0,0.6,0.2,1.1, 0.0,0.4,0.2,0.7,0.1,0.5,0.3,0.6, 0.1,0.3,0.0,0.4,0.2,0.1,0.0,0.3, 0.0,0.2,0.1,0.4,0.0,0.3,0.1,0.2, 0.1,0.3,0.0,0.4,0.2,0.0,0.1,0.3, 0.0,0.3,0.1,0.5,0.2,0.4,0.0,0.2, 0.1,0.4,0.0,0.6,0.2,0.5,0.3,0.0, 0.2,0.9,0.0,1.3,0.4,0.7,0.1,1.1];
const wap10Chr10Dense = [0.1,0.8,0.3,1.2,0.0,0.6,0.2,1.0, 0.2,0.9,0.0,1.3,0.4,0.7,0.1,1.1, 0.0,0.9,0.3,1.2,0.1,0.6,0.2,1.0, 0.1,1.0,0.3,1.3,0.0,0.7,0.2,1.1, 0.2,1.0,0.0,1.4,0.4,0.8,0.1,1.2, 0.0,1.1,0.3,1.5,0.1,0.7,0.2,1.3, 0.1,1.0,0.3,1.4,0.0,0.7,0.2,1.2];
const wap10Significant = [[1,21,3.42],[3,54,3.36],[3,139,3.33],[3,173,3.58],[9,148,3.05],[10,109,3.73],[10,128,4.45]];

// Q-Q plots: [expected, observed]
const qqTicks = [0,1,2,3,4];
const qq8Points = [[0.02,0.02],[0.07,0.07],[0.13,0.12],[0.19,0.18],[0.25,0.24],[0.31,0.3],[0.37,0.36],[0.43,0.42],[0.5,0.49],[0.57,0.56],[0.64,0.63],[0.71,0.7],[0.78,0.77],[0.85,0.84],[0.92,0.91],[0.99,0.98],[1.06,1.05],[1.13,1.12],[1.2,1.18],[1.27,1.25],[1.34,1.32],[1.41,1.39],[1.48,1.46],[1.55,1.53],[1.62,1.59],[1.69,1.66],[1.76,1.72],[1.83,1.79],[1.9,1.86],[1.97,1.92],[2.04,1.97],[2.11,2.01],[2.18,2.05],[2.25,2.09],[2.31,2.12],[2.36,2.17],[2.4,2.24],[2.44,2.32],[2.48,2.4],[2.52,2.47],[2.57,2.51],[2.62,2.53],[2.67,2.55],[2.72,2.58],[2.77,2.63],[2.83,2.71],[2.9,2.8],[2.98,2.9],[3.07,3.0],[3.17,3.07],[3.28,3.15],[3.4,3.22],[3.56,3.28],[3.87,4.35]];
const qq8BandX = [2.0,2.4,2.8,3.1,3.4,3.7,4.05];
const qq8BandLow = [1.95,2.3,2.62,2.85,3.05,3.25,3.45];
const qq8BandHigh = [2.05,2.5,2.95,3.3,3.7,4.1,4.6];
const qq10Points = [[0.02,0.02],[0.07,0.07],[0.13,0.13],[0.19,0.19],[0.25,0.25],[0.31,0.31],[0.37,0.37],[0.43,0.43],[0.5,0.5],[0.57,0.57],[0.64,0.64],[0.71,0.71],[0.78,0.78],[0.85,0.85],[0.92,0.92],[0.99,0.99],[1.06,1.06],[1.13,1.13],[1.2,1.2],[1.27,1.27],[1.34,1.34],[1.41,1.41],[1.48,1.48],[1.55,1.56],[1.62,1.63],[1.69,1.69],[1.76,1.75],[1.83,1.81],[1.9,1.88],[1.97,1.95],[2.04,2.01],[2.1,2.04],[2.15,2.07],[2.22,2.13],[2.3,2.22],[2.37,2.32],[2.44,2.41],[2.5,2.47],[2.56,2.54],[2.62,2.62],[2.7,2.74],[2.78,2.86],[2.86,2.95],[2.92,3.0],[3.0,3.03],[3.08,3.32],[3.15,3.35],[3.25,3.42],[3.38,3.58],[3.55,3.71],[3.85,4.43]];
const qq10BandX = [2.4,2.8,3.1,3.4,3.7,4.05];
const qq10BandLow = [2.35,2.65,2.85,3.05,3.25,3.45];
const qq10BandHigh = [2.5,2.95,3.35,3.8,4.25,4.75];
const qqDiagonal = [[-0.5,-0.5],[5,5]];

// ---------------- BUILD ----------------
const wap8 = [wap8Chr1,wap8Chr2,wap8Chr3,wap8Chr4,wap8Chr5,wap8Chr6,wap8Chr7,wap8Chr8,wap8Chr9,wap8Chr10];
const wap8Dense = [wap8Chr1Dense,wap8Chr2Dense,wap8Chr3Dense,wap8Chr4Dense,wap8Chr5Dense,wap8Chr6Dense,wap8Chr7Dense,wap8Chr8Dense,wap8Chr9Dense,wap8Chr10Dense];
const wap10 = [wap10Chr1,wap10Chr2,wap10Chr3,wap10Chr4,wap10Chr5,wap10Chr6,wap10Chr7,wap10Chr8,wap10Chr9,wap10Chr10];
const wap10Dense = [wap10Chr1Dense,wap10Chr2Dense,wap10Chr3Dense,wap10Chr4Dense,wap10Chr5Dense,wap10Chr6Dense,wap10Chr7Dense,wap10Chr8Dense,wap10Chr9Dense,wap10Chr10Dense];
const cum = []; let acc = 0; chrLengthMb.forEach(L => { cum.push(acc); acc += L; });
const xMin = -7, xMax = 2076, EDGE = 13;
const centers = chrLengthMb.map((L, i) => cum[i] + L / 2);
const tickVals = [xMin].concat(centers);
const tickLabels = ['Chr'].concat(chrLabels);
const palette = ['#377EB8', '#4DAF4A', '#984EA3', '#FF7F00'];
function chrPoints(vals, i, shift) {
  const L = chrLengthMb[i], n = vals.length, a = EDGE + shift;
  return vals.map((v, k) => [cum[i] + a + (L - 2 * EDGE) * k / (n - 1) * (1 - 2 * shift / (L - 2 * EDGE)), v]);
}
function sigPoints(list) { return list.map(d => [cum[d[0] - 1] + d[1], d[2]]); }

const SANS = 'Liberation Sans, Arial, sans-serif';
const panels = [
  { data: wap8, dense: wap8Dense, sig: wap8Significant, left: 105, top: 77, width: 867, height: 218 },
  { data: wap10, dense: wap10Dense, sig: wap10Significant, left: 105, top: 490, width: 879, height: 225 }
];
const grid = [], xAxis = [], yAxis = [], series = [];
const nameRich = {
  a: { fontSize: 24, fontFamily: SANS, color: '#111', lineHeight: 28 },
  s: { fontSize: 15, fontFamily: SANS, color: '#111', lineHeight: 15, verticalAlign: 'bottom' },
  p: { fontSize: 24, fontFamily: SANS, color: '#111', fontStyle: 'italic', lineHeight: 28 }
};
panels.forEach((p, pi) => {
  const g0 = grid.length;
  grid.push({ left: p.left, top: p.top, width: p.width, height: p.height });
  const axisW = p.width * (centers[9] - xMin) / (xMax - xMin);
  grid.push({ left: p.left, top: p.top, width: axisW, height: p.height });
  xAxis.push({ gridIndex: g0, type: 'value', min: xMin, max: xMax, show: false });
  yAxis.push({ gridIndex: g0, type: 'value', min: 0, max: 5, interval: 1,
    axisLine: { show: true, lineStyle: { color: '#555', width: 1 } },
    axisTick: { show: true, length: 5, lineStyle: { color: '#555' } },
    axisLabel: { rotate: 90, fontSize: 11, fontWeight: 'bold', color: '#333', fontFamily: SANS, margin: 13 },
    splitLine: { show: false },
    name: '{a|\u2212log}{s|10}{a|(}{p|p}{a|)}', nameLocation: 'middle', nameRotate: 90, nameGap: 42,
    nameTextStyle: { rich: nameRich }
  });
  xAxis.push({ gridIndex: g0 + 1, type: 'value', min: xMin, max: centers[9], offset: 9,
    axisLine: { show: true, lineStyle: { color: '#555', width: 1 } },
    axisTick: { show: true, length: 5, customValues: tickVals, lineStyle: { color: '#555' } },
    axisLabel: { customValues: tickVals, fontSize: 11, fontWeight: 'bold', color: '#222', fontFamily: SANS, margin: 17,
      formatter: v => { let b = 0; tickVals.forEach((t, k) => { if (Math.abs(t - v) < Math.abs(tickVals[b] - v)) b = k; }); return tickLabels[b]; } },
    splitLine: { show: false }
  });
  yAxis.push({ gridIndex: g0 + 1, type: 'value', min: 0, max: 5, show: false });
  p.data.forEach((vals, i) => {
    const col = palette[i % 4];
    const s = { type: 'scatter', xAxisIndex: g0, yAxisIndex: g0, data: chrPoints(p.dense[i], i, 1.5).concat(chrPoints(vals, i, 0)),
      symbolSize: 7.5, itemStyle: { color: col, opacity: 1 }, clip: false, silent: true, z: 2 };
    if (i === 0) s.markLine = { silent: true, symbol: 'none', label: { show: false }, animation: false,
      lineStyle: { type: [4, 3], color: '#c0605c', width: 1 }, data: thresholdLines.map(v => ({ yAxis: v })) };
    series.push(s);
  });
  series.push({ type: 'scatter', xAxisIndex: g0, yAxisIndex: g0, data: sigPoints(p.sig), symbolSize: 9.5,
    itemStyle: { color: '#FF0000', opacity: 1 }, clip: false, silent: true, z: 4 });
});

// Q-Q grids
const qqRich = {
  a: { fontSize: 11.5, fontFamily: SANS, color: '#444', lineHeight: 14 },
  s: { fontSize: 8, fontFamily: SANS, color: '#444', lineHeight: 8, verticalAlign: 'bottom' },
  p: { fontSize: 11.5, fontFamily: SANS, color: '#444', fontStyle: 'italic', lineHeight: 14 }
};
const qqPanels = [
  { pts: qq8Points, bx: qq8BandX, lo: qq8BandLow, hi: qq8BandHigh, left: 1079, top: 59, width: 171, height: 113, xmin: -0.17, xmax: 4.03, ymin: -0.2, ymax: 4.5 },
  { pts: qq10Points, bx: qq10BandX, lo: qq10BandLow, hi: qq10BandHigh, left: 1077, top: 479, width: 184, height: 124, xmin: -0.16, xmax: 4.0, ymin: -0.19, ymax: 4.62 }
];
qqPanels.forEach((q, qi) => {
  const gi = grid.length;
  grid.push({ left: q.left, top: q.top, width: q.width, height: q.height, show: true, borderColor: '#444', borderWidth: 1, backgroundColor: 'transparent' });
  xAxis.push({ gridIndex: gi, type: 'value', min: q.xmin, max: q.xmax,
    axisLine: { show: false }, splitLine: { show: false },
    axisTick: { show: true, length: 4, customValues: qqTicks, lineStyle: { color: '#444' } },
    axisLabel: { customValues: qqTicks, fontSize: 10, color: '#444', fontFamily: SANS, margin: 6 },
    name: '{a|Expected  \u2212log}{s|10}{a|(}{p|p}{a|)}', nameLocation: 'middle', nameGap: 21, nameTextStyle: { rich: qqRich } });
  yAxis.push({ gridIndex: gi, type: 'value', min: q.ymin, max: q.ymax,
    axisLine: { show: false }, splitLine: { show: false },
    axisTick: { show: true, length: 4, customValues: qqTicks, lineStyle: { color: '#444' } },
    axisLabel: { customValues: qqTicks, rotate: 90, fontSize: 10, color: '#444', fontFamily: SANS, margin: 6 },
    name: '{a|Observed  \u2212log}{s|10}{a|(}{p|p}{a|)}', nameLocation: 'middle', nameRotate: 90, nameGap: 30, nameTextStyle: { rich: qqRich } });
  series.push({ type: 'custom', xAxisIndex: gi, yAxisIndex: gi, silent: true, z: 1, data: [[0, 0]],
    renderItem: (params, api) => {
      const up = q.bx.map((x, k) => api.coord([x, q.hi[k]]));
      const dn = q.bx.map((x, k) => api.coord([x, q.lo[k]])).reverse();
      const cs = params.coordSys;
      const pts = echarts.graphic.clipPointsByRect(up.concat(dn), { x: cs.x, y: cs.y, width: cs.width, height: cs.height });
      return { type: 'polygon', shape: { points: pts }, style: { fill: '#c2c2c2' } };
    } });
  series.push({ type: 'line', xAxisIndex: gi, yAxisIndex: gi, symbol: 'none', silent: true, clip: true,
    lineStyle: { color: '#e8302a', width: 1.2 }, data: qqDiagonal, z: 3 });
  series.push({ type: 'scatter', xAxisIndex: gi, yAxisIndex: gi, symbol: 'circle', symbolSize: 5.5, silent: true,
    itemStyle: { color: 'rgba(0,0,0,0)', borderColor: '#1a1aff', borderWidth: 1.3, opacity: 1 }, data: q.pts, z: 4 });
});

const SERIF = 'Liberation Serif, Times New Roman, serif';
const OPEN = 'Open Sans, sans-serif';
const capLine1 = '{b|Fig.  4}  The  Manhattan  and  Q-Q  plots  of  the  SNP-based  associations  mapping  for  {i|Striga}  damage  at  8  WAP  and  10  WAP  under  artificial';
const graphic = [
  { type: 'rect', shape: { x: 9, y: 8, width: 1278, height: 840, r: 14 }, style: { fill: 'none', stroke: '#222', lineWidth: 1.5 }, silent: true },
  { type: 'text', x: 31, y: 40, style: { text: 'A', fontFamily: SERIF, fontSize: 31, fontWeight: 'bold', fill: '#111', verticalAlign: 'middle' } },
  { type: 'text', x: 310, y: 37, style: { text: '{i|Striga} damage at 8 WAP', fontFamily: SERIF, fontSize: 25, fill: '#111', verticalAlign: 'middle',
      rich: { i: { fontFamily: SERIF, fontSize: 25, fontStyle: 'italic', fill: '#111' } } } },
  { type: 'text', x: 31, y: 433, style: { text: 'B', fontFamily: SERIF, fontSize: 31, fontWeight: 'bold', fill: '#111', verticalAlign: 'middle' } },
  { type: 'text', x: 330, y: 448, style: { text: '{i|Striga} damage at 10 WAP', fontFamily: OPEN, fontSize: 22, fill: '#111', verticalAlign: 'middle',
      rich: { i: { fontFamily: OPEN, fontSize: 22, fontStyle: 'italic', fill: '#111' } } } },
  { type: 'text', x: 536, y: 351, style: { text: 'Chromosome', fontFamily: SANS, fontSize: 23, fill: '#111', align: 'center', verticalAlign: 'middle' } },
  { type: 'text', x: 543, y: 772, style: { text: 'Chromosome', fontFamily: SANS, fontSize: 24, fill: '#111', align: 'center', verticalAlign: 'middle' } },
  { type: 'line', shape: { x1: 1015, y1: 208, x2: 1275, y2: 208 }, style: { stroke: '#aaa', lineWidth: 1 }, silent: true },
  { type: 'text', x: 33, y: 808, style: { text: capLine1,
      fontFamily: OPEN, fontSize: 17.4, fill: '#231f20', verticalAlign: 'middle',
      rich: { b: { fontFamily: OPEN, fontSize: 17.4, fontWeight: 'bold', fill: '#231f20' }, i: { fontFamily: OPEN, fontSize: 17.4, fontStyle: 'italic', fill: '#231f20' } } } },
  { type: 'text', x: 33, y: 832, style: { text: '{i|Striga} infestation', fontFamily: OPEN, fontSize: 17.4, fill: '#231f20', verticalAlign: 'middle',
      rich: { i: { fontFamily: OPEN, fontSize: 17.4, fontStyle: 'italic', fill: '#231f20' } } } }
];

const chart = echarts.init(document.getElementById('c'), null, { renderer: 'canvas' });
chart.setOption({ animation: false, backgroundColor: '#fff', grid, xAxis, yAxis, series, graphic });
</script></body></html>
